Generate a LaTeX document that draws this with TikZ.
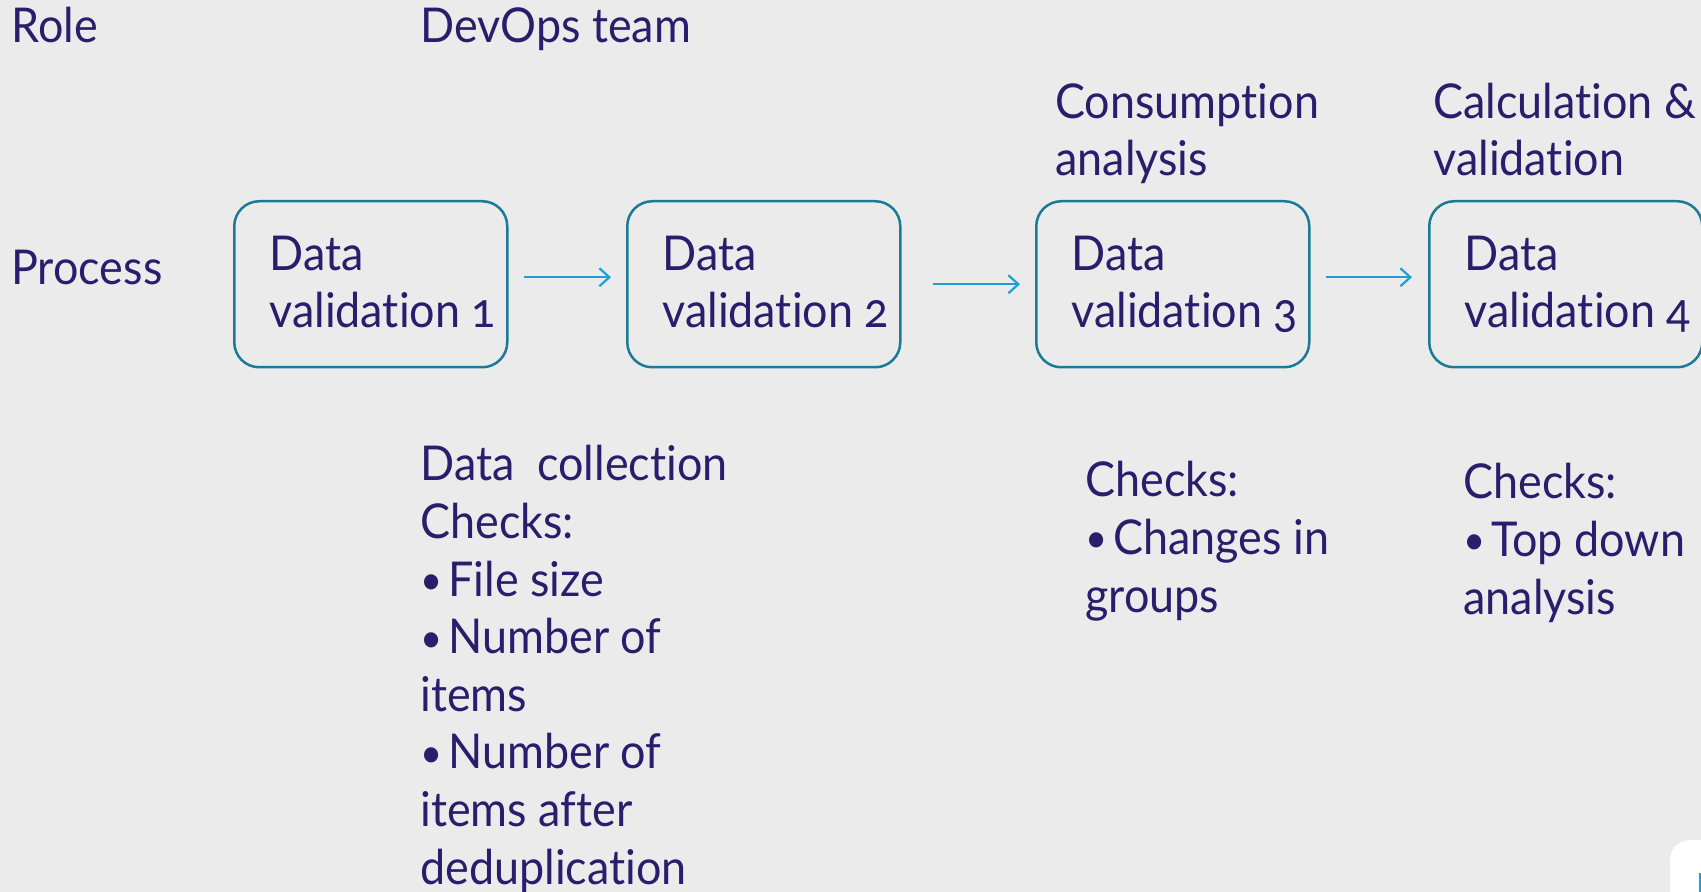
\documentclass[tikz,border=0pt]{standalone}
\usepackage{fontspec}
\setmainfont[Numbers=OldStyle, FakeStretch=0.935, Ligatures=NoCommon]{Lato}
\usetikzlibrary{arrows.meta}
\definecolor{bg}{HTML}{EBEBEB}
\definecolor{ink}{HTML}{2A1E6C}
\definecolor{boxline}{HTML}{1B7A96}
\definecolor{arrowc}{HTML}{1BA1D3}
\newcommand{\bul}{\raisebox{0.03em}{\scalebox{0.85}{\textbullet}}\hspace{0.12em}}
\tikzset{
  lbl/.style={anchor=base west, inner sep=0pt, text=ink, align=left,
    font=\fontsize{24}{28.8}\selectfont},
  pbox/.style={draw=boxline, line width=1.25pt, rounded corners=12.5pt,
    minimum width=136.5pt, minimum height=83pt, anchor=north west, inner sep=0pt},
  arr/.style={draw=arrowc, line width=1.1pt, -{Straight Barb[length=5pt,width=9pt]}}
}
\begin{document}
\begin{tikzpicture}[x=0.5pt,y=-0.5pt]
\fill[bg] (0,0) rectangle (1701,892);
\useasboundingbox (0,0) rectangle (1701,892);
% corner artifact
\begin{scope}
\clip (0,0) rectangle (1701,892);
\fill[white, rounded corners=10pt] (1670,840) rectangle (1760,940);
\draw[arrowc, line width=1pt] (1700,873) -- (1700,892);
\end{scope}
% labels
\node[lbl] (role) at (11,43) {Role};
\node[lbl] (devops) at (420,43) {DevOps team};
\node[lbl] (process) at (11,285) {Process};
\node[lbl] (cons) at (1055,176) {Consumption\\analysis};
\node[lbl] (calc) at (1433,176) {Calculation \&\\validation};
% boxes
\node[pbox] (b1) at (233,200) {};
\node[pbox] (b2) at (626,200) {};
\node[pbox] (b3) at (1035,200) {};
\node[pbox] (b4) at (1428,200) {};
\node[lbl] (t1) at (269,328) {Data\\validation 1};
\node[lbl] (t2) at (662,328) {Data\\validation 2};
\node[lbl] (t3) at (1071,328) {Data\\validation 3};
\node[lbl] (t4) at (1464,328) {Data\\validation 4};
% arrows
\draw[arr] ([shift={(15,-7)}]b1.east) -- ([shift={(-15,-7)}]b2.west);
\draw[arr] ([shift={(31,0)}]b2.east) -- ([shift={(-15,0)}]b3.west);
\draw[arr] ([shift={(15,-7)}]b3.east) -- ([shift={(-16,-7)}]b4.west);
% checks
\node[lbl] (c1) at (420,884) {Data\ \ collection\\Checks:\\\bul File size\\\bul Number of\\items\\\bul Number of\\items after\\deduplication};
\node[lbl] (c3) at (1085,612) {Checks:\\\bul Changes in\\groups};
\node[lbl] (c4) at (1463,614) {Checks:\\\bul Top down\\analysis};
\end{tikzpicture}
\end{document}
